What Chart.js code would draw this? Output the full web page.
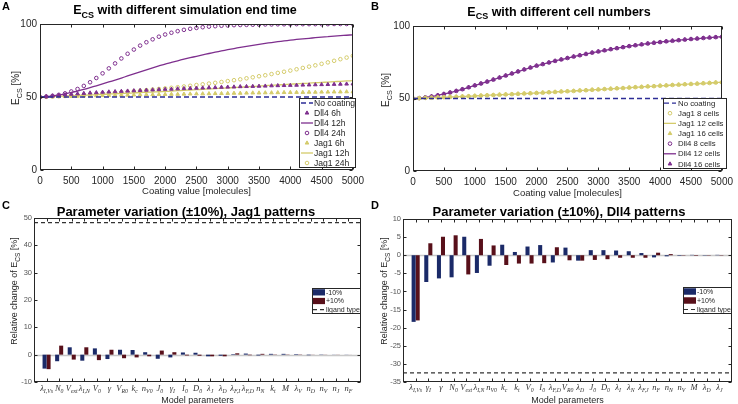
<!DOCTYPE html>
<html>
<head>
<meta charset="utf-8">
<title>ECS parameter study</title>
<script src="https://cdn.jsdelivr.net/npm/chart.js@4.4.1/dist/chart.umd.min.js"></script>
<style>
  html, body { margin: 0; padding: 0; background: #fff; }
  #fig { position: relative; width: 738px; height: 404px; overflow: hidden; }
  #fig canvas { position: absolute; }
</style>
</head>
<body>
<div id="fig">
  <canvas id="chartA" width="369" height="200" style="left:0;top:0"></canvas>
  <canvas id="chartB" width="369" height="200" style="left:369px;top:0"></canvas>
  <canvas id="chartC" width="369" height="204" style="left:0;top:200px"></canvas>
  <canvas id="chartD" width="369" height="204" style="left:369px;top:200px"></canvas>
</div>
<script>
// ---- data: panels A and B (E_CS vs coating value) ----
const coating = [0, 100, 200, 300, 400, 500, 600, 700, 800, 900,
  1000, 1100, 1200, 1300, 1400, 1500, 1600, 1700, 1800, 1900,
  2000, 2100, 2200, 2300, 2400, 2500, 2600, 2700, 2800, 2900,
  3000, 3100, 3200, 3300, 3400, 3500, 3600, 3700, 3800, 3900,
  4000, 4100, 4200, 4300, 4400, 4500, 4600, 4700, 4800, 4900, 5000];
const noCoating = 50;

const dll4_6h = [50.0, 50.4, 50.8, 51.2, 51.6, 51.9, 52.2, 52.5, 52.8, 53.0,
  53.3, 53.5, 53.7, 53.9, 54.1, 54.3, 54.5, 54.7, 54.9, 55.1,
  55.3, 55.4, 55.6, 55.8, 55.9, 56.1, 56.2, 56.4, 56.5, 56.7,
  56.8, 56.9, 57.1, 57.2, 57.3, 57.4, 57.5, 57.7, 57.8, 57.9,
  58.0, 58.1, 58.2, 58.3, 58.4, 58.5, 58.6, 58.7, 58.8, 58.9, 59.0];
const dll4_12h = [50.0, 50.3, 50.8, 51.4, 52.2, 53.1, 54.1, 55.2, 56.4, 57.7,
  59.0, 60.3, 61.6, 63.0, 64.4, 65.8, 67.2, 68.6, 70.0, 71.3,
  72.6, 73.7, 74.8, 75.9, 76.9, 77.9, 78.9, 79.8, 80.7, 81.6,
  82.4, 83.2, 84.0, 84.7, 85.4, 86.1, 86.7, 87.3, 87.9, 88.4,
  88.9, 89.4, 89.8, 90.2, 90.6, 91.0, 91.3, 91.7, 92.0, 92.3, 92.6];
const dll4_24h = [50.0, 50.3, 50.8, 51.5, 52.5, 53.8, 55.5, 57.6, 60.1, 63.0,
  66.2, 69.6, 73.0, 76.4, 79.6, 82.5, 85.2, 87.5, 89.5, 91.3,
  92.8, 94.0, 95.1, 96.0, 96.7, 97.3, 97.8, 98.2, 98.5, 98.8,
  99.0, 99.2, 99.3, 99.4, 99.5, 99.6, 99.7, 99.7, 99.8, 99.8,
  99.8, 99.9, 99.9, 99.9, 99.9, 99.9, 99.9, 100, 100, 100, 100];
const jag1_6h = [50.0, 50.1, 50.2, 50.3, 50.4, 50.5, 50.6, 50.7, 50.8, 50.9,
  51.0, 51.1, 51.2, 51.3, 51.3, 51.4, 51.5, 51.6, 51.6, 51.7,
  51.8, 51.9, 51.9, 52.0, 52.1, 52.2, 52.2, 52.3, 52.4, 52.4,
  52.5, 52.6, 52.6, 52.7, 52.8, 52.8, 52.9, 52.9, 53.0, 53.1,
  53.1, 53.2, 53.2, 53.3, 53.3, 53.4, 53.4, 53.5, 53.5, 53.6, 53.6];
const jag1_12h = [50.0, 50.2, 50.4, 50.5, 50.7, 50.9, 51.1, 51.2, 51.4, 51.6,
  51.8, 52.0, 52.2, 52.4, 52.6, 52.8, 53.0, 53.2, 53.4, 53.6,
  53.8, 54.0, 54.3, 54.5, 54.8, 55.0, 55.2, 55.5, 55.7, 56.0,
  56.2, 56.5, 56.7, 57.0, 57.2, 57.5, 57.8, 58.0, 58.3, 58.5,
  58.8, 59.0, 59.3, 59.5, 59.8, 60.0, 60.2, 60.5, 60.7, 61.0, 61.2];
const jag1_24h = [50.0, 50.1, 50.3, 50.5, 50.7, 51.0, 51.2, 51.5, 51.8, 52.1,
  52.4, 52.7, 53.0, 53.3, 53.6, 54.0, 54.3, 54.7, 55.1, 55.5,
  55.9, 56.3, 56.7, 57.2, 57.7, 58.2, 58.7, 59.2, 59.7, 60.3,
  60.9, 61.5, 62.1, 62.8, 63.5, 64.2, 64.9, 65.7, 66.5, 67.3,
  68.1, 69.0, 69.9, 70.8, 71.7, 72.7, 73.7, 74.8, 75.9, 77.0, 78.2];

// panel B: the 8/12/16 cell runs lie on top of each other (12 cells = 12h run of A)
const jag1_8cells = jag1_12h, jag1_12cells = jag1_12h, jag1_16cells = jag1_12h;
const dll4_8cells = dll4_12h, dll4_12cells = dll4_12h, dll4_16cells = dll4_12h;

// ---- data: panel C (Jag1) ----
const jagParams = ['λ_{I,Vs}', 'N_{0}', 'V_{ext}', 'λ_{I,N}', 'V_{0}', 'γ', 'V_{R0}', 'k_{c}', 'n_{V0}', 'J_{0}',
  'γ_{I}', 'I_{0}', 'D_{0}', 'λ_{J}', 'λ_{D}', 'λ_{F,I}', 'λ_{F,D}', 'n_{N}', 'k_{t}', 'M',
  'λ_{V}', 'n_{D}', 'n_{V}', 'n_{J}', 'n_{F}'];
const jagMinus = [-5.1, -2.4, 2.7, -2.2, 2.3, -1.6, 1.8, 1.7, 0.9, -1.5,
  -1.0, 0.8, 0.7, -0.6, -0.4, 0.2, 0.4, -0.3, 0.3, 0.3,
  0.2, -0.2, 0.1, 0.05, 0.05];
const jagPlus = [-5.3, 3.3, -1.8, 2.7, -2.0, 1.8, -1.3, -1.0, -0.6, 1.5,
  0.9, -0.3, -0.4, -0.6, -0.6, 0.5, -0.2, 0.3, 0.1, 0.1,
  -0.1, 0.05, 0.05, 0.05, 0.02];
const jagLigand = 48.3;

// ---- data: panel D (Dll4) ----
const dllParams = ['λ_{I,Vs}', 'γ_{I}', 'γ', 'N_{0}', 'V_{ext}', 'λ_{I,N}', 'n_{V0}', 'k_{c}', 'k_{t}', 'V_{0}',
  'I_{0}', 'λ_{F,D}', 'V_{R0}', 'λ_{D}', 'J_{0}', 'D_{0}', 'λ_{I}', 'λ_{N}', 'λ_{F,J}', 'n_{F}',
  'n_{N}', 'n_{V}', 'M', 'λ_{D}', 'λ_{J}'];
const dllMinus = [-18.4, -7.4, -6.4, -6.1, 5.1, -4.9, -2.9, 2.9, 0.9, 2.4,
  2.8, -2.0, 2.1, -1.5, 1.4, 1.4, 1.3, 1.1, 0.6, -0.6,
  -0.3, -0.15, 0.1, -0.1, 0.1];
const dllPlus = [-18.0, 3.3, 5.1, 5.5, -5.3, 4.5, 2.7, -2.7, -2.3, -2.3,
  -2.2, 2.2, -1.4, -1.5, -1.3, -1.1, -0.7, -0.7, -0.7, 0.7,
  0.3, -0.1, -0.15, -0.1, -0.1];
const dllLigand = -32.5;

// ---- styles ----
const SANS = "'Liberation Sans', Arial, Helvetica, sans-serif";
const SERIF = "'Liberation Serif', 'DejaVu Serif', serif";
const PURPLE = '#7E2F8E';
const YELLOW = '#D4CB6A';
const DASHBLUE = '#2D2D96';
const NAVY = '#1B2A68';
const DARKRED = '#58101A';
const AXIS = '#262626';

Chart.defaults.font.family = SANS;
Chart.defaults.color = AXIS;

// ---- small text helpers (subscripts written as _{..}) ----
function richParts(str) {
  const parts = [];
  const re = /_\{([^}]*)\}/g;
  let last = 0, m;
  while ((m = re.exec(str))) {
    if (m.index > last) parts.push([str.slice(last, m.index), false]);
    parts.push([m[1], true]);
    last = re.lastIndex;
  }
  if (last < str.length) parts.push([str.slice(last), false]);
  return parts;
}

function drawRich(ctx, str, x, y, o) {
  const parts = richParts(str);
  const font = sub => `${o.style || 'normal'} ${o.weight || 'normal'} ${sub ? o.size * (o.subScale || 0.72) : o.size}px ${o.family || SANS}`;
  let w = 0;
  parts.forEach(([t, sub]) => { ctx.font = font(sub); w += ctx.measureText(t).width; });
  let cx = o.align === 'left' ? x : x - w / 2;
  ctx.fillStyle = o.color || '#000';
  ctx.textAlign = 'left';
  ctx.textBaseline = 'alphabetic';
  parts.forEach(([t, sub]) => {
    ctx.font = font(sub);
    ctx.fillText(t, cx, y + (sub ? o.size * (o.subDrop || 0.3) : 0));
    cx += ctx.measureText(t).width;
  });
}

function drawLegend(chart, lg) {
  const ctx = chart.ctx;
  const sets = chart.data.datasets;
  const rowH = lg.h / sets.length;
  ctx.save();
  ctx.fillStyle = '#fff';
  ctx.fillRect(lg.x, lg.y, lg.w, lg.h);
  ctx.strokeStyle = AXIS;
  ctx.lineWidth = 1;
  ctx.strokeRect(lg.x + 0.5, lg.y + 0.5, lg.w - 1, lg.h - 1);
  sets.forEach((ds, i) => {
    const cy = lg.y + rowH * (i + 0.5);
    const [s0, s1] = lg.sym;
    if (ds.type === 'bar') {
      ctx.fillStyle = ds.backgroundColor;
      ctx.fillRect(s0, cy - rowH * 0.36, s1 - s0, rowH * 0.72);
    } else if (ds.showLine === false) {
      ctx.strokeStyle = ds.borderColor;
      ctx.fillStyle = ds.backgroundColor;
      ctx.lineWidth = 1;
      Chart.helpers.drawPoint(ctx, { pointStyle: ds.pointStyle, radius: ds.pointRadius, rotation: 0, borderWidth: 1 }, (s0 + s1) / 2, cy);
    } else {
      ctx.strokeStyle = ds.borderColor;
      ctx.lineWidth = ds.borderWidth || 1;
      ctx.setLineDash(ds.borderDash || []);
      ctx.beginPath();
      ctx.moveTo(s0, cy);
      ctx.lineTo(s1, cy);
      ctx.stroke();
      ctx.setLineDash([]);
    }
    ctx.font = `${lg.size}px ${SANS}`;
    ctx.fillStyle = AXIS;
    ctx.textAlign = 'left';
    ctx.textBaseline = 'middle';
    ctx.fillText(ds.label, lg.textX, cy + 0.5);
  });
  ctx.restore();
}

// ---- matlab-like frame: box, inward ticks, titles, legend ----
const matlabFrame = {
  id: 'matlab',
  beforeDatasetsDraw(chart, args, o) {
    if (!o.zeroLine) return;
    const { ctx, chartArea: a, scales: { y } } = chart;
    const py = Math.round(y.getPixelForValue(0)) + 0.5;
    ctx.save();
    ctx.strokeStyle = '#c8c8c8';
    ctx.lineWidth = 1.5;
    ctx.beginPath();
    ctx.moveTo(a.left, py);
    ctx.lineTo(a.right, py);
    ctx.stroke();
    ctx.restore();
  },
  afterDraw(chart, args, o) {
    const { ctx, chartArea: a, scales: { x, y } } = chart;
    const L = Math.round(a.left) + 0.5, R = Math.round(a.right) - 0.5;
    const T = Math.round(a.top) + 0.5, B = Math.round(a.bottom) - 0.5;
    const len = 3;
    ctx.save();
    ctx.strokeStyle = AXIS;
    ctx.lineWidth = 1;
    ctx.strokeRect(L, T, R - L, B - T);
    const xs = o.categories
      ? o.categories.map((_, i) => x.getPixelForValue(i + 1))
      : x.ticks.map(t => x.getPixelForValue(t.value));
    const ys = y.ticks.map(t => y.getPixelForValue(t.value));
    ctx.beginPath();
    xs.forEach(px => {
      px = Math.round(px) + 0.5;
      ctx.moveTo(px, B); ctx.lineTo(px, B - len);
      ctx.moveTo(px, T); ctx.lineTo(px, T + len);
    });
    ys.forEach(py => {
      py = Math.round(py) + 0.5;
      ctx.moveTo(L, py); ctx.lineTo(L + len, py);
      ctx.moveTo(R, py); ctx.lineTo(R - len, py);
    });
    ctx.stroke();

    // panel letter
    ctx.font = `bold 11px ${SANS}`;
    ctx.fillStyle = '#000';
    ctx.textAlign = 'left';
    ctx.textBaseline = 'alphabetic';
    ctx.fillText(o.letter, 2, o.letterY);

    drawRich(ctx, o.title, o.titleX, o.titleY, { size: o.titleSize, weight: 'bold', color: '#000' });
    drawRich(ctx, o.xTitle, (a.left + a.right) / 2, o.xTitleY, { size: o.xTitleSize, color: AXIS });

    ctx.save();
    ctx.translate(o.yTitleX, o.yTitleY);
    ctx.rotate(-Math.PI / 2);
    drawRich(ctx, o.yTitle, 0, 0, { size: o.yTitleSize, color: AXIS });
    ctx.restore();

    if (o.categories) {
      o.categories.forEach((lab, i) => {
        drawRich(ctx, lab, x.getPixelForValue(i + 1), o.catY,
          { size: 8.5, style: 'italic', family: SERIF, color: '#333', subScale: 0.68, subDrop: 0.25 });
      });
    }
    ctx.restore();
    if (o.legend) drawLegend(chart, o.legend);
  }
};

// ---- dataset builders ----
function pts(arr) { return arr.map((y, i) => ({ x: coating[i], y })); }

function markerSet(label, arr, color, style) {
  return {
    label, data: pts(arr), showLine: false,
    borderColor: color,
    backgroundColor: style === 'circle' ? 'rgba(255,255,255,0)' : color,
    pointStyle: style, pointRadius: style === 'circle' ? 1.8 : 2.1, pointBorderWidth: 1
  };
}
function lineSet(label, arr, color) {
  return { label, data: pts(arr), borderColor: color, borderWidth: 1.3, pointRadius: 0, tension: 0.2 };
}
function noCoatingSet() {
  return {
    label: 'No coating',
    data: [{ x: coating[0], y: noCoating }, { x: coating[coating.length - 1], y: noCoating }],
    borderColor: DASHBLUE, borderWidth: 1.3, borderDash: [5, 3], pointRadius: 0
  };
}

function coatingScales(leftW, bottomH) {
  return {
    x: {
      type: 'linear', min: 0, max: 5000,
      grid: { display: false, drawTicks: false }, border: { display: false },
      ticks: { stepSize: 500, autoSkip: false, maxRotation: 0, padding: 5, font: { size: 10 }, color: AXIS, callback: v => String(v) },
      afterFit: s => { s.height = bottomH; }
    },
    y: {
      min: 0, max: 100,
      grid: { display: false, drawTicks: false }, border: { display: false },
      ticks: { stepSize: 50, padding: 3, font: { size: 10 }, color: AXIS, callback: v => String(v) },
      afterFit: s => { s.width = leftW; }
    }
  };
}

function paramScales(leftW, bottomH, n, yMin, yMax, step) {
  return {
    x: {
      type: 'linear', min: 0, max: n + 1, offset: false,
      grid: { display: false, drawTicks: false }, border: { display: false },
      ticks: { display: false, stepSize: 1 },
      afterFit: s => { s.height = bottomH; }
    },
    y: {
      min: yMin, max: yMax,
      grid: { display: false, drawTicks: false }, border: { display: false },
      ticks: { stepSize: step, padding: 2, font: { size: 7.5 }, color: '#555', callback: v => String(v) },
      afterFit: s => { s.width = leftW; }
    }
  };
}

function paramSets(params, minus, plus, ligand) {
  return [
    { type: 'bar', label: '-10%', data: params.map((_, i) => ({ x: i + 1, y: minus[i] })), backgroundColor: NAVY, barPercentage: 1, categoryPercentage: 0.64 },
    { type: 'bar', label: '+10%', data: params.map((_, i) => ({ x: i + 1, y: plus[i] })), backgroundColor: DARKRED, barPercentage: 1, categoryPercentage: 0.64 },
    { type: 'line', label: 'ligand type', data: [{ x: 0, y: ligand }, { x: params.length + 1, y: ligand }], borderColor: '#333', borderWidth: 1.2, borderDash: [4, 3], pointRadius: 0 }
  ];
}

const common = { responsive: false, animation: false, events: [] };

// ---- A ----
new Chart(document.getElementById('chartA'), {
  type: 'line',
  data: {
    datasets: [
      noCoatingSet(),
      markerSet('Dll4 6h', dll4_6h, PURPLE, 'triangle'),
      lineSet('Dll4 12h', dll4_12h, PURPLE),
      markerSet('Dll4 24h', dll4_24h, PURPLE, 'circle'),
      markerSet('Jag1 6h', jag1_6h, YELLOW, 'triangle'),
      lineSet('Jag1 12h', jag1_12h, YELLOW),
      markerSet('Jag1 24h', jag1_24h, YELLOW, 'circle')
    ]
  },
  options: {
    ...common,
    layout: { padding: { top: 24, right: 13, left: 0, bottom: 0 } },
    scales: coatingScales(40, 30),
    plugins: {
      legend: { display: false }, tooltip: { enabled: false },
      matlab: {
        letter: 'A', letterY: 10,
        title: 'E_{CS} with different simulation end time', titleX: 185, titleY: 14, titleSize: 12.5,
        yTitle: 'E_{CS} [%]', yTitleX: 19, yTitleY: 88, yTitleSize: 10,
        xTitle: 'Coating value [molecules]', xTitleY: 194, xTitleSize: 9.5,
        legend: { x: 299, y: 98, w: 57, h: 70, size: 8.6, sym: [301, 313], textX: 314 }
      }
    }
  },
  plugins: [matlabFrame]
});

// ---- B ----
new Chart(document.getElementById('chartB'), {
  type: 'line',
  data: {
    datasets: [
      noCoatingSet(),
      markerSet('Jag1 8 cells', jag1_8cells, YELLOW, 'circle'),
      lineSet('Jag1 12 cells', jag1_12cells, YELLOW),
      markerSet('Jag1 16 cells', jag1_16cells, YELLOW, 'triangle'),
      markerSet('Dll4 8 cells', dll4_8cells, PURPLE, 'circle'),
      lineSet('Dll4 12 cells', dll4_12cells, PURPLE),
      markerSet('Dll4 16 cells', dll4_16cells, PURPLE, 'triangle')
    ]
  },
  options: {
    ...common,
    layout: { padding: { top: 26, right: 11, left: 0, bottom: 0 } },
    scales: coatingScales(44, 29),
    plugins: {
      legend: { display: false }, tooltip: { enabled: false },
      matlab: {
        letter: 'B', letterY: 10,
        title: 'E_{CS} with different cell numbers', titleX: 190, titleY: 15.5, titleSize: 12.5,
        yTitle: 'E_{CS} [%]', yTitleX: 20, yTitleY: 90, yTitleSize: 10,
        xTitle: 'Coating value [molecules]', xTitleY: 196, xTitleSize: 9.5,
        legend: { x: 294, y: 98, w: 64, h: 71, size: 7.8, sym: [295, 307], textX: 309 }
      }
    }
  },
  plugins: [matlabFrame]
});

// ---- C ----
new Chart(document.getElementById('chartC'), {
  type: 'bar',
  data: { datasets: paramSets(jagParams, jagMinus, jagPlus, jagLigand) },
  options: {
    ...common,
    layout: { padding: { top: 18, right: 8, left: 0, bottom: 0 } },
    scales: paramScales(34, 22, jagParams.length, -10, 50, 10),
    plugins: {
      legend: { display: false }, tooltip: { enabled: false },
      matlab: {
        letter: 'C', letterY: 9, zeroLine: true,
        title: 'Parameter variation (±10%), Jag1 patterns', titleX: 186, titleY: 16, titleSize: 13,
        yTitle: 'Relative change of E_{CS} [%]', yTitleX: 17, yTitleY: 91, yTitleSize: 9,
        xTitle: 'Model parameters', xTitleY: 202.5, xTitleSize: 9,
        categories: jagParams, catY: 191,
        legend: { x: 312, y: 88, w: 49, h: 26, size: 7, sym: [313, 325], textX: 326 }
      }
    }
  },
  plugins: [matlabFrame]
});

// ---- D ----
new Chart(document.getElementById('chartD'), {
  type: 'bar',
  data: { datasets: paramSets(dllParams, dllMinus, dllPlus, dllLigand) },
  options: {
    ...common,
    layout: { padding: { top: 19, right: 6, left: 0, bottom: 0 } },
    scales: paramScales(34, 22, dllParams.length, -35, 10, 5),
    plugins: {
      legend: { display: false }, tooltip: { enabled: false },
      matlab: {
        letter: 'D', letterY: 9, zeroLine: true,
        title: 'Parameter variation (±10%), Dll4 patterns', titleX: 190, titleY: 16, titleSize: 13,
        yTitle: 'Relative change of E_{CS} [%]', yTitleX: 18, yTitleY: 91, yTitleSize: 9,
        xTitle: 'Model parameters', xTitleY: 202.5, xTitleSize: 9,
        categories: dllParams, catY: 190,
        legend: { x: 314, y: 87, w: 49, h: 27, size: 7, sym: [315, 327], textX: 328 }
      }
    }
  },
  plugins: [matlabFrame]
});
</script>
</body>
</html>
